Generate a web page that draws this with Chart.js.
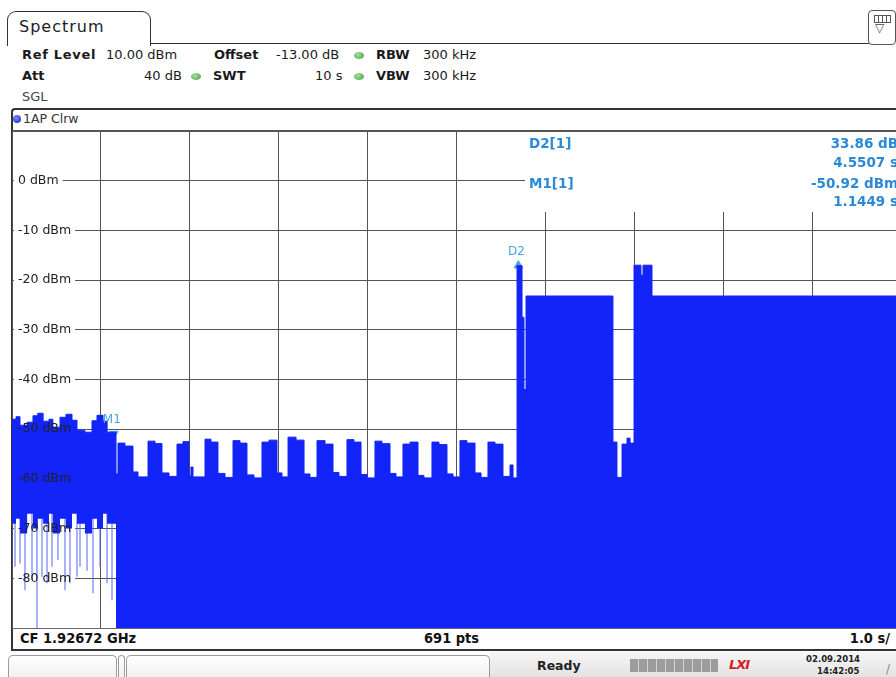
<!DOCTYPE html>
<html>
<head>
<meta charset="utf-8">
<title>Spectrum</title>
<script src="https://cdn.jsdelivr.net/npm/chart.js@4.4.1/dist/chart.umd.min.js"></script>
<style>
html, body { margin:0; padding:0; width:896px; height:677px; overflow:hidden; background:#fff; font-family:"DejaVu Sans", sans-serif; color:#1a1a1a; }
.abs { position:absolute; white-space:nowrap; }
.hd { font-size:13px; line-height:16px; }
.b { font-weight:bold; }
.dot { position:absolute; width:10px; height:7px; border-radius:50%; background:radial-gradient(circle at 40% 35%, #a6e3a0, #3f9a3c); }
.mk { position:absolute; white-space:nowrap; font-weight:bold; font-size:13.5px; line-height:16px; color:#2b8ad6; }
.mkr { text-align:right; width:140px; }
.ft { font-family:"DejaVu Sans Condensed", "DejaVu Sans", sans-serif; font-weight:bold; font-size:14.5px; line-height:18px; color:#111; }
.btn { position:absolute; border:1px solid #9b9b9b; border-bottom:none; border-radius:5px 5px 0 0; background:linear-gradient(#ffffff, #efefef); }
</style>
</head>
<body>
<!-- tab -->
<div class="abs" style="left:7px;top:11px;width:142px;height:34px;border:1.5px solid #333;border-bottom:none;border-radius:9px 9px 0 0;"></div>
<div class="abs" style="left:19px;top:17px;font-size:16px;line-height:20px;letter-spacing:1px;color:#222;">Spectrum</div>
<div class="abs" style="left:150px;top:43px;width:719px;height:0;border-top:1.5px solid #333;"></div>
<div class="abs" style="left:868px;top:10px;width:26px;height:33px;border:1.3px solid #555;border-radius:4px;"></div>
<div class="abs" style="left:874px;top:15px;width:15px;height:6px;border:1px solid #555;background:repeating-linear-gradient(90deg,#fff 0 3px,#555 3px 4px);"></div>
<div class="abs" style="left:875px;top:21px;font-size:12px;line-height:14px;color:#444;">▽</div>

<!-- header -->
<div class="abs hd b" style="left:22px;top:47px;letter-spacing:0.7px;">Ref Level</div>
<div class="abs hd" style="left:106px;top:47px;">10.00 dBm</div>
<div class="abs hd b" style="left:214px;top:47px;">Offset</div>
<div class="abs hd" style="left:276px;top:47px;">-13.00 dB</div>
<div class="dot" style="left:354px;top:52px;"></div>
<div class="abs hd b" style="left:376px;top:47px;">RBW</div>
<div class="abs hd" style="left:423px;top:47px;">300 kHz</div>

<div class="abs hd b" style="left:22px;top:68px;">Att</div>
<div class="abs hd" style="left:144px;top:68px;">40 dB</div>
<div class="dot" style="left:191px;top:73px;"></div>
<div class="abs hd b" style="left:213px;top:68px;">SWT</div>
<div class="abs hd" style="left:315px;top:68px;">10 s</div>
<div class="dot" style="left:354px;top:73px;"></div>
<div class="abs hd b" style="left:376px;top:68px;">VBW</div>
<div class="abs hd" style="left:423px;top:68px;">300 kHz</div>

<div class="abs hd" style="left:22px;top:89px;color:#444;">SGL</div>

<!-- plot frame -->
<div class="abs" style="left:11px;top:108px;width:900px;height:539px;border-left:2px solid #333;border-top:2px solid #333;border-bottom:2.5px solid #333;border-top-left-radius:4px;"></div>
<div class="abs" style="left:13px;top:115px;width:8px;height:8px;border-radius:50%;background:radial-gradient(circle at 40% 35%, #7b8cff, #1726b8);"></div>
<div class="abs" style="left:23px;top:111px;font-size:12.5px;line-height:16px;color:#333;">1AP Clrw</div>

<canvas id="trace" width="889" height="497" style="position:absolute;left:12px;top:131px;"></canvas>
<div class="abs" style="left:12px;top:130px;width:890px;height:1.5px;background:#555;"></div>
<div class="abs" style="left:12px;top:628px;width:890px;height:1px;background:#667;"></div>

<!-- marker table -->
<div class="mk" style="left:529px;top:135px;">D2[1]</div>
<div class="mk mkr" style="left:758px;top:135px;">33.86 dB</div>
<div class="mk mkr" style="left:758px;top:154px;">4.5507 s</div>
<div class="mk" style="left:529px;top:175px;">M1[1]</div>
<div class="mk mkr" style="left:758px;top:175px;">-50.92 dBm</div>
<div class="mk mkr" style="left:758px;top:193px;">1.1449 s</div>

<!-- footer -->
<div class="abs ft" style="left:20px;top:629px;">CF 1.92672 GHz</div>
<div class="abs ft" style="left:424px;top:629px;">691 pts</div>
<div class="abs ft" style="right:6px;top:629px;">1.0 s/</div>

<!-- status bar -->
<div class="btn" style="left:8px;top:655px;width:107px;height:23px;"></div>
<div class="btn" style="left:118px;top:655px;width:5px;height:23px;"></div>
<div class="btn" style="left:126px;top:655px;width:362px;height:23px;"></div>
<div class="abs" style="left:490px;top:652px;width:406px;height:25px;background:linear-gradient(#f6f6f6,#e3e3e3);"></div>
<div class="abs b" style="left:537px;top:658px;font-size:12.5px;line-height:16px;color:#222;">Ready</div>
<div class="abs" style="left:630px;top:659px;width:88px;height:13px;background:repeating-linear-gradient(90deg,#9c9c9c 0 8px,#d2d2d2 8px 9px);"></div>
<div class="abs b" style="left:729px;top:657px;font-size:13px;line-height:16px;font-style:italic;color:#d42020;letter-spacing:-1px;">LXI</div>
<div class="abs b" style="left:806px;top:653px;font-family:'DejaVu Sans Condensed';font-size:9.5px;line-height:11px;color:#222;">02.09.2014</div>
<div class="abs b" style="left:817px;top:665px;font-family:'DejaVu Sans Condensed';font-size:9.5px;line-height:11px;color:#222;">14:42:05</div>
<div class="abs" style="left:886px;top:662px;font-size:12px;line-height:14px;color:#888;">/</div>

<script>
// sweep time (s) where each step of the trace starts, 1 s/div, 10 s sweep
const sweepTimes = [
  0.000, 0.045, 0.090, 0.170, 0.236, 0.290, 0.350, 0.416, 0.460, 0.540,
  0.607, 0.675, 0.731, 0.820, 0.900, 0.956, 1.024, 1.070, 1.170,
  1.192, 1.271, 1.361, 1.417,
  1.530, 1.609, 1.687, 1.766,
  1.856, 1.923, 1.991, 2.013, 2.036,
  2.171, 2.238, 2.317, 2.396,
  2.486, 2.565, 2.643, 2.722,
  2.812, 2.891, 2.981, 3.037,
  3.105, 3.195, 3.285, 3.352,
  3.431, 3.521, 3.611, 3.678,
  3.768, 3.847, 3.926, 3.993,
  4.083, 4.162, 4.252, 4.319,
  4.398, 4.477, 4.567, 4.634,
  4.724, 4.803, 4.893, 4.961,
  5.039, 5.118, 5.208, 5.276,
  5.354, 5.433, 5.523, 5.602, 5.636,
  5.681, 5.737, 5.759, 5.782,
  6.760, 6.805, 6.862, 6.918, 6.952,
  6.997, 7.075, 7.098, 7.199, 10.0
];

// max level of each step (dBm)
const peakLevels = [
  -48.0, -47.5, -49.2, -48.6, -47.3, -46.8, -48.4, -48.0, -49.6, -47.6,
  -47.0, -48.2, -50.2, -50.6, -48.3, -47.2, -48.4, -50.6, -59.0,
  -52.8, -53.4, -58.6, -59.6,
  -52.4, -52.9, -58.8, -59.5,
  -53.0, -52.5, -59.4, -57.6, -59.6,
  -52.0, -52.6, -58.9, -59.7,
  -52.3, -52.8, -59.2, -59.8,
  -52.6, -52.2, -58.8, -59.6,
  -51.6, -52.2, -59.0, -59.7,
  -52.3, -53.0, -58.7, -59.5,
  -52.1, -52.6, -59.1, -59.8,
  -52.4, -52.9, -58.9, -59.6,
  -53.0, -52.6, -59.3, -59.8,
  -52.6, -53.1, -59.0, -59.6,
  -52.3, -52.8, -58.8, -59.7,
  -52.6, -53.0, -59.5, -57.2, -59.8,
  -17.1, -27.5, -42.0, -23.2,
  -52.6, -59.7, -53.0, -51.8, -52.8,
  -17.0, -19.0, -17.0, -23.2, -23.2
];

// min level of each step (dBm), -90 = below the screen
const floorLevels = [
  -69, -68, -71, -67, -70, -68, -69, -67, -71, -68,
  -70, -67, -69, -71, -68, -70, -67, -69, -90,
  -90, -90, -90, -90,
  -90, -90, -90, -90,
  -90, -90, -90, -90, -90,
  -90, -90, -90, -90,
  -90, -90, -90, -90,
  -90, -90, -90, -90,
  -90, -90, -90, -90,
  -90, -90, -90, -90,
  -90, -90, -90, -90,
  -90, -90, -90, -90,
  -90, -90, -90, -90,
  -90, -90, -90, -90,
  -90, -90, -90, -90,
  -90, -90, -90, -90, -90,
  -90, -90, -90, -90,
  -90, -90, -90, -90, -90,
  -90, -90, -90, -90, -90
];

// single deep samples in the first second
const spikeTimes = [0.034, 0.090, 0.146, 0.225, 0.281, 0.337, 0.394, 0.450, 0.517,
  0.596, 0.652, 0.731, 0.765, 0.844, 0.911, 0.990, 1.069, 1.125];
const spikeLevels = [-77.7, -77.0, -82.4, -80.3, -90.0, -79.7, -81.0, -77.7, -76.3,
  -82.4, -81.0, -79.7, -77.7, -78.5, -83.0, -77.7, -81.0, -84.4];

const markerNames = ['M1', 'D2'];
const markerTimes = [1.1449, 5.6956];
const markerLevels = [-50.92, -17.06];

const levelTicks = [0, -10, -20, -30, -40, -50, -60, -70, -80];

const traceBlue = 'rgb(18,36,248)';
const markerBlue = '#4aa6de';

const toPoints = (xs, ys) => xs.map((x, i) => ({ x, y: ys[i] }));

const spikePoints = [];
spikeTimes.forEach((t, i) => {
    spikePoints.push({ x: t, y: -66 }, { x: t, y: spikeLevels[i] }, { x: t, y: null });
});

const screenPlugin = {
    id: 'screen',
    beforeDatasetsDraw(chart) {
        const { ctx, chartArea, scales } = chart;
        ctx.save();
        ctx.fillStyle = '#fff';
        // marker table hides the grid in the upper right
        ctx.fillRect(513, chartArea.top, chartArea.right - 513 + 2, 81);
        ctx.font = '12.5px "DejaVu Sans"';
        levelTicks.forEach(v => {
            const py = scales.y.getPixelForValue(v);
            const w = ctx.measureText(v + ' dBm').width;
            ctx.fillRect(2, py - 3, w + 8, 6);
        });
        ctx.restore();
    },
    afterDatasetsDraw(chart) {
        const { ctx, scales } = chart;
        ctx.save();
        ctx.font = '12.5px "DejaVu Sans"';
        ctx.fillStyle = '#222';
        ctx.textBaseline = 'middle';
        levelTicks.forEach(v => {
            ctx.fillText(v + ' dBm', 6, scales.y.getPixelForValue(v));
        });
        ctx.font = '12px "DejaVu Sans"';
        ctx.fillStyle = markerBlue;
        ctx.textAlign = 'center';
        markerNames.forEach((n, i) => {
            const px = scales.x.getPixelForValue(markerTimes[i]);
            const py = scales.y.getPixelForValue(markerLevels[i]);
            ctx.fillText(n, px - 2, py - 14);
        });
        ctx.restore();
    }
};

new Chart(document.getElementById('trace'), {
    type: 'line',
    data: {
        datasets: [
            {
                data: toPoints(sweepTimes, floorLevels),
                stepped: true,
                borderWidth: 0,
                pointRadius: 0,
                fill: false
            },
            {
                data: toPoints(sweepTimes, peakLevels),
                stepped: true,
                borderColor: traceBlue,
                borderWidth: 1,
                backgroundColor: traceBlue,
                pointRadius: 0,
                fill: '-1'
            },
            {
                data: spikePoints,
                borderColor: 'rgba(80,100,250,0.55)',
                borderWidth: 1.8,
                pointRadius: 0,
                spanGaps: false,
                fill: false
            },
            {
                type: 'scatter',
                data: toPoints(markerTimes, markerLevels),
                pointStyle: 'triangle',
                rotation: [180, 0],
                pointRadius: 5,
                backgroundColor: markerBlue,
                borderColor: markerBlue
            }
        ]
    },
    options: {
        responsive: false,
        animation: false,
        events: [],
        layout: { padding: 0, autoPadding: false },
        plugins: { legend: { display: false }, tooltip: { enabled: false } },
        scales: {
            x: {
                type: 'linear', min: 0, max: 10,
                ticks: { display: false, stepSize: 1 },
                grid: { color: '#555', lineWidth: 1, drawTicks: false },
                border: { display: false }
            },
            y: {
                type: 'linear', min: -90, max: 10,
                ticks: { display: false, stepSize: 10 },
                grid: { color: '#555', lineWidth: 1, drawTicks: false },
                border: { display: false }
            }
        }
    },
    plugins: [screenPlugin]
});
</script>
</body>
</html>
